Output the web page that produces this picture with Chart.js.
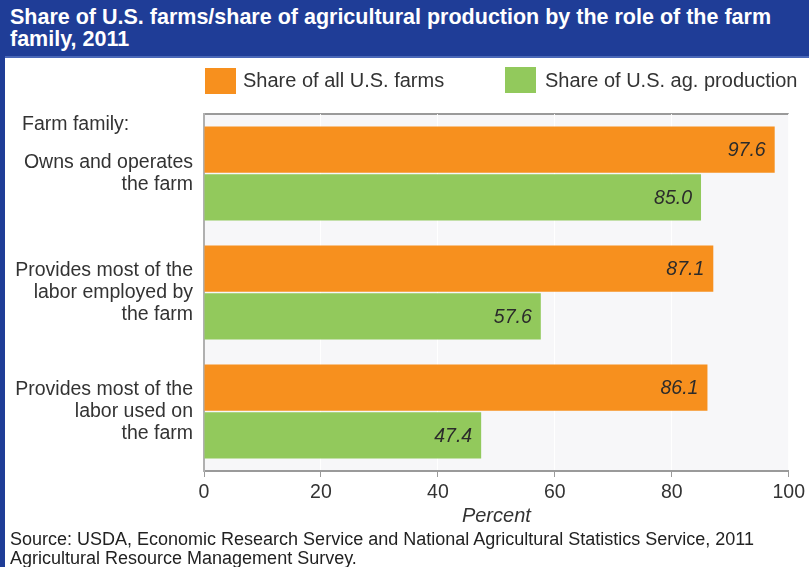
<!DOCTYPE html>
<html>
<head>
<meta charset="utf-8">
<script src="https://cdn.jsdelivr.net/npm/chart.js@4.4.1/dist/chart.umd.min.js"></script>
<style>
  body { margin: 0; background: #fff; font-family: "Liberation Sans", Arial, sans-serif; }
  #page { position: relative; width: 809px; height: 567px; overflow: hidden; background: #fff; }
  #titlebar { position: absolute; left: 0; top: 0; width: 809px; height: 56px; background: #1f3d97;
    border-bottom: 2px solid #4a68b8; }
  #titlebar div { position: absolute; left: 10px; top: 6px; color: #fff; font-weight: bold;
    font-size: 21.5px; line-height: 22px; white-space: nowrap; }
  #leftbar { position: absolute; left: 0; top: 56px; width: 5px; height: 511px; background: #1f3d97; }
  canvas { position: absolute; left: 0; top: 0; }
  .leg-box { position: absolute; width: 31px; height: 26px; }
  .leg-text { position: absolute; font-size: 20px; color: #333; line-height: 22px; white-space: nowrap; }
  #farmfamily { position: absolute; left: 22px; top: 112px; font-size: 19.5px; color: #333; line-height: 22px; }
  #source { position: absolute; left: 10px; top: 530px; font-size: 18px; color: #222; line-height: 19px; white-space: nowrap; }
</style>
</head>
<body>
<div id="page">
  <canvas id="chart" width="809" height="567"></canvas>
  <div id="titlebar"><div>Share of U.S. farms/share of agricultural production by the role of the farm<br>family, 2011</div></div>
  <div id="leftbar"></div>
  <div class="leg-box" style="left:205px; top:68px; background:#f7901e;"></div>
  <div class="leg-text" style="left:243px; top:69px;">Share of all U.S. farms</div>
  <div class="leg-box" style="left:505px; top:67px; background:#92c95c;"></div>
  <div class="leg-text" style="left:545px; top:69px;">Share of U.S. ag. production</div>
  <div id="farmfamily">Farm family:</div>
  <div id="source">Source: USDA, Economic Research Service and National Agricultural Statistics Service, 2011<br>Agricultural Resource Management Survey.</div>
</div>
<script>
const categories = [
  ["Owns and operates", "the farm"],
  ["Provides most of the", "labor employed by", "the farm"],
  ["Provides most of the", "labor used on", "the farm"]
];
const seriesNames = ["Share of all U.S. farms", "Share of U.S. ag. production"];
const farmShare = [97.6, 87.1, 86.1];
const productionShare = [85.0, 57.6, 47.4];
const xTicks = [0, 20, 40, 60, 80, 100];

const colors = ['#f7901e', '#92c95c'];
const fontFamily = '"Liberation Sans", Arial, sans-serif';

// light plot background and the top frame line
const plotFrame = {
  id: 'plotFrame',
  beforeDraw(chart) {
    const { ctx, chartArea: a } = chart;
    ctx.save();
    ctx.fillStyle = '#f7f7f9';
    ctx.fillRect(a.left, a.top, a.right - a.left, a.bottom - a.top);
    ctx.strokeStyle = '#9a9a9a';
    ctx.lineWidth = 2;
    ctx.beginPath();
    ctx.moveTo(a.left, a.top);
    ctx.lineTo(a.right, a.top);
    ctx.stroke();
    ctx.restore();
  }
};

// italic value labels inside the bar ends
const valueLabels = {
  id: 'valueLabels',
  afterDatasetsDraw(chart) {
    const { ctx } = chart;
    ctx.save();
    ctx.font = 'italic 19.5px ' + fontFamily;
    ctx.fillStyle = '#2b2b2b';
    ctx.textAlign = 'right';
    ctx.textBaseline = 'middle';
    chart.data.datasets.forEach((ds, i) => {
      chart.getDatasetMeta(i).data.forEach((bar, j) => {
        ctx.fillText(ds.data[j].toFixed(1), bar.x - 9, bar.y + 1);
      });
    });
    ctx.restore();
  }
};

new Chart(document.getElementById('chart'), {
  type: 'bar',
  data: {
    labels: categories,
    datasets: [
      { label: seriesNames[0], data: farmShare, backgroundColor: colors[0] },
      { label: seriesNames[1], data: productionShare, backgroundColor: colors[1] }
    ]
  },
  options: {
    indexAxis: 'y',
    responsive: false,
    animation: false,
    categoryPercentage: 0.8,
    barPercentage: 0.97,
    layout: { padding: { top: 114, right: 14, bottom: 39, left: 0 } },
    plugins: { legend: { display: false }, tooltip: { enabled: false } },
    scales: {
      x: {
        min: 0,
        max: 100,
        afterBuildTicks(axis) { axis.ticks = xTicks.map(v => ({ value: v })); },
        afterFit(axis) { axis.height = 57; },
        grid: { color: 'rgba(255,255,255,0.9)', tickColor: '#9a9a9a', tickLength: 6, lineWidth: 1 },
        border: { color: '#9a9a9a', width: 2 },
        ticks: { color: '#333', font: { size: 19.5, family: fontFamily }, padding: 4 },
        title: {
          display: true, text: 'Percent', color: '#333',
          font: { size: 20, style: 'italic', family: fontFamily },
          padding: 0
        }
      },
      y: {
        afterFit(axis) { axis.width = 204; },
        grid: { display: false, drawTicks: false },
        border: { color: '#b0b0b0', width: 2 },
        ticks: { color: '#333', font: { size: 19.5, family: fontFamily, lineHeight: 1.13 }, padding: 11 }
      }
    }
  },
  plugins: [plotFrame, valueLabels]
});
</script>
</body>
</html>
